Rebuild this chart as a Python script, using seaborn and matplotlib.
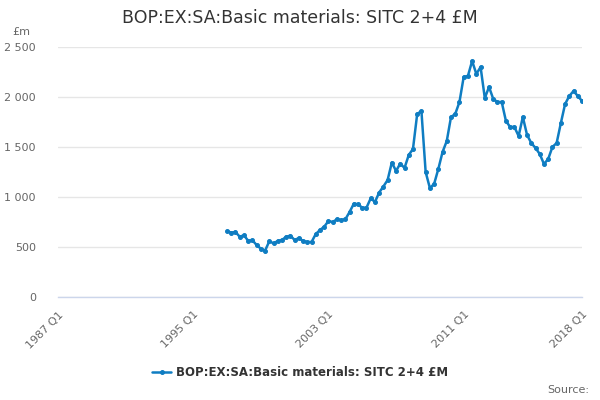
import numpy as np
import pandas as pd
import matplotlib
matplotlib.use("Agg")
import matplotlib.pyplot as plt
import seaborn as sns

# quarterly values, 1997 Q1 .. 2018 Q1 (£m)
values = [660, 643, 650, 603, 617, 563, 567, 520, 483, 463,
          557, 537, 560, 570, 603, 613, 570, 590, 560, 550,
          550, 630, 670, 703, 760, 750, 777, 770, 777, 850,
          933, 927, 893, 893, 987, 950, 1045, 1105, 1170, 1345,
          1260, 1335, 1290, 1420, 1480, 1830, 1860, 1250, 1090, 1130,
          1280, 1450, 1560, 1800, 1830, 1950, 2200, 2210, 2360, 2230,
          2300, 1990, 2100, 1980, 1950, 1950, 1760, 1700, 1700, 1610,
          1800, 1620, 1540, 1490, 1430, 1330, 1380, 1500, 1540, 1740,
          1930, 2010, 2060, 2010, 1960]
start_year = 1997
axis_start_year = 1987
tick_labels = ["1987 Q1", "1995 Q1", "2003 Q1", "2011 Q1", "2018 Q1"]
series_name = "BOP:EX:SA:Basic materials: SITC 2+4 £M"

quarters = [f"{start_year + i // 4} Q{i % 4 + 1}" for i in range(len(values))]
offset = (start_year - axis_start_year) * 4
df = pd.DataFrame({"pos": np.arange(len(values)) + offset,
                   "quarter": quarters,
                   "value": values})

sns.set_theme(style="white")
plt.rcParams['font.family'] = ['DejaVu Sans']

fig = plt.figure(figsize=(6, 4), dpi=100)
ax = fig.add_axes([58 / 600, 1 - 297 / 400, 524 / 600, 250 / 400])

line_color = "#0f7dc2"
sns.lineplot(data=df, x="pos", y="value", ax=ax, color=line_color,
             linewidth=1.8, marker="o", markersize=2.8,
             markeredgecolor=line_color, label=series_name)

last = (2018 - axis_start_year) * 4
ax.set_xlim(0, last)
ax.set_ylim(0, 2500)

# x ticks every 2 years up to 2015, then 2018 Q1
xticks = list(range(0, 113, 8)) + [last]
ax.set_xticks(xticks)
lab_map = {0: tick_labels[0], 32: tick_labels[1], 64: tick_labels[2],
           96: tick_labels[3], last: tick_labels[4]}
ax.set_xticklabels([lab_map.get(t, "") for t in xticks], rotation=45,
                   ha="right", rotation_mode="anchor", color="#666666",
                   fontsize=8)
ax.tick_params(axis="x", length=7, width=1, color="#ccd6eb", pad=2)

yticks = [0, 500, 1000, 1500, 2000, 2500]
ax.set_yticks(yticks)
ax.set_yticklabels([f"{v:,}".replace(",", " ") for v in yticks],
                   color="#666666", fontsize=8)
ax.tick_params(axis="y", length=0, pad=16)
ax.yaxis.grid(True, color="#e6e6e6", linewidth=1)
ax.set_axisbelow(True)

for s in ["top", "right", "left"]:
    ax.spines[s].set_visible(False)
ax.spines["bottom"].set_color("#ccd6eb")
ax.spines["bottom"].set_linewidth(1)

ax.set_xlabel("")
ax.set_ylabel("")

fig.text(0.5, 1 - 18 / 400, series_name, ha="center", va="center",
         fontsize=12.5, color="#333333")
fig.text(12 / 600, 1 - 32 / 400, "£m", ha="left", va="center",
         fontsize=8, color="#666666")
fig.text(589 / 600, 1 - 390 / 400, "Source:", ha="right", va="center",
         fontsize=8, color="#666666")

leg = ax.legend(loc="center", bbox_to_anchor=(0.5, 1 - 373 / 400),
                bbox_transform=fig.transFigure, frameon=False,
                fontsize=8.5, handlelength=1.6, handletextpad=0.4)
for t in leg.get_texts():
    t.set_fontweight("bold")
    t.set_color("#333333")

fig.savefig("out.png", dpi=100)
